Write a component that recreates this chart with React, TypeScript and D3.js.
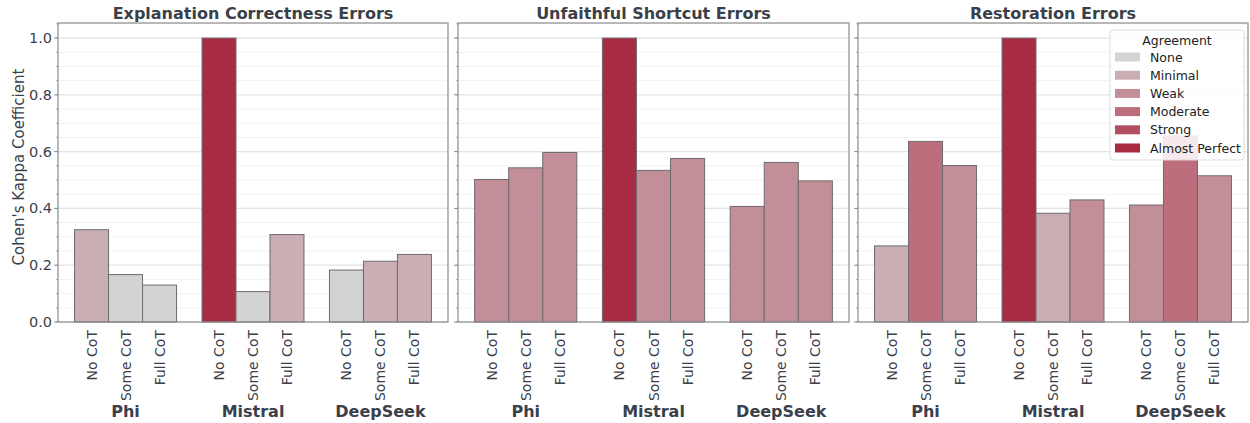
import React, { useEffect, useRef } from 'react';
import * as d3 from 'd3';

const panelTitles = ['Explanation Correctness Errors', 'Unfaithful Shortcut Errors', 'Restoration Errors'];
const models = ['Phi', 'Mistral', 'DeepSeek'];
const settings = ['No CoT', 'Some CoT', 'Full CoT'];

// kappa values per model, order: No CoT, Some CoT, Full CoT
const explanationVals = [
  [0.325, 0.167, 0.13],
  [1.0, 0.107, 0.308],
  [0.183, 0.214, 0.238],
];
const shortcutVals = [
  [0.502, 0.543, 0.597],
  [1.0, 0.534, 0.576],
  [0.407, 0.562, 0.497],
];
const restorationVals = [
  [0.268, 0.636, 0.551],
  [1.0, 0.383, 0.43],
  [0.412, 0.655, 0.515],
];

const agreementLevels = ['None', 'Minimal', 'Weak', 'Moderate', 'Strong', 'Almost Perfect'];
const agreementColors = ['#d3d3d3', '#c9afb3', '#c28f98', '#bc6e7c', '#b34f62', '#a82b44'];
const agreementCuts = [0.2, 0.4, 0.6, 0.8, 0.9];

const yTicks = [0, 0.2, 0.4, 0.6, 0.8, 1.0];

const W = 1250, H = 423;
const textCol = '#3b3f4a';
const font = '"DejaVu Sans", sans-serif';

export default function App() {
  const ref = useRef<SVGSVGElement>(null);

  useEffect(() => {
    const svg = d3.select(ref.current);
    svg.selectAll('*').remove();

    const panelData = [explanationVals, shortcutVals, restorationVals];
    const panelX = [[58, 448], [458, 849], [858, 1248]];
    const top = 23, bottom = 322;

    const y = d3.scaleLinear().domain([0, 1.053]).range([bottom, top]);
    const color = d3.scaleThreshold<number, string>().domain(agreementCuts).range(agreementColors);

    panelData.forEach((vals, p) => {
      const [x0, x1] = panelX[p];
      const x = d3.scaleLinear().domain([-0.53, 2.53]).range([x0, x1]);
      const step = x(1) - x(0);
      const bw = (step * 0.8) / 3;
      const g = svg.append('g');

      // minor grid
      g.selectAll('.minor')
        .data(d3.range(0, 1.051, 0.05).filter(v => Math.abs(v * 5 - Math.round(v * 5)) > 0.01))
        .enter().append('line')
        .attr('x1', x0).attr('x2', x1)
        .attr('y1', d => y(d)).attr('y2', d => y(d))
        .attr('stroke', '#f2f2f2').attr('stroke-width', 1);
      g.selectAll('.major')
        .data(yTicks)
        .enter().append('line')
        .attr('x1', x0).attr('x2', x1)
        .attr('y1', d => y(d)).attr('y2', d => y(d))
        .attr('stroke', '#e3e3e3').attr('stroke-width', 1.2);

      // bars
      vals.forEach((row, gi) => {
        row.forEach((v, si) => {
          const cx = x(gi) + (si - 1) * bw;
          g.append('rect')
            .attr('x', cx - bw / 2)
            .attr('y', y(v))
            .attr('width', bw)
            .attr('height', y(0) - y(v))
            .attr('fill', color(v))
            .attr('stroke', '#6e6a70')
            .attr('stroke-width', 1);
          g.append('text')
            .attr('transform', 'translate(' + (cx + 5) + ',' + 330 + ') rotate(-90)')
            .attr('text-anchor', 'end')
            .attr('font-size', 14)
            .attr('fill', textCol)
            .attr('font-family', font)
            .text(settings[si]);
        });
        g.append('text')
          .attr('x', x(gi))
          .attr('y', 417)
          .attr('text-anchor', 'middle')
          .attr('font-size', 16)
          .attr('font-weight', 'bold')
          .attr('fill', textCol)
          .attr('font-family', font)
          .text(models[gi]);
      });

      // y ticks
      const minor = d3.range(0, 1.051, 0.05);
      g.selectAll('.mt').data(minor).enter().append('line')
        .attr('x1', x0 - 2).attr('x2', x0)
        .attr('y1', d => y(d)).attr('y2', d => y(d))
        .attr('stroke', '#9a9a9a').attr('stroke-width', 0.8);
      g.selectAll('.Mt').data(yTicks).enter().append('line')
        .attr('x1', x0 - 4).attr('x2', x0)
        .attr('y1', d => y(d)).attr('y2', d => y(d))
        .attr('stroke', '#8a8a8a').attr('stroke-width', 1);

      if (p === 0) {
        g.selectAll('.tl').data(yTicks).enter().append('text')
          .attr('x', x0 - 6).attr('y', d => y(d) + 5)
          .attr('text-anchor', 'end')
          .attr('font-size', 14.5)
          .attr('fill', textCol)
          .attr('font-family', font)
          .text(d => d.toFixed(1));
      }

      // frame
      g.append('rect')
        .attr('x', x0).attr('y', top)
        .attr('width', x1 - x0).attr('height', bottom - top)
        .attr('fill', 'none')
        .attr('stroke', '#8c8c8c').attr('stroke-width', 1.2);

      g.append('text')
        .attr('x', (x0 + x1) / 2).attr('y', 19)
        .attr('text-anchor', 'middle')
        .attr('font-size', 16)
        .attr('font-weight', 'bold')
        .attr('fill', textCol)
        .attr('font-family', font)
        .text(panelTitles[p]);
    });

    svg.append('text')
      .attr('transform', 'translate(24,' + 167 + ') rotate(-90)')
      .attr('text-anchor', 'middle')
      .attr('font-size', 15)
      .attr('fill', textCol)
      .attr('font-family', font)
      .text("Cohen's Kappa Coefficient");

    // legend
    const lg = svg.append('g').attr('transform', 'translate(1110,30)');
    lg.append('rect')
      .attr('x', 0).attr('y', 0).attr('width', 134).attr('height', 130)
      .attr('rx', 3)
      .attr('fill', 'white').attr('fill-opacity', 0.85)
      .attr('stroke', '#dcdcdc');
    lg.append('text')
      .attr('x', 67).attr('y', 15)
      .attr('text-anchor', 'middle')
      .attr('font-size', 12.5)
      .attr('fill', '#222')
      .attr('font-family', font)
      .text('Agreement');
    agreementLevels.forEach((lvl, i) => {
      const ly = 27 + i * 18.2;
      lg.append('rect')
        .attr('x', 5).attr('y', ly - 4.5).attr('width', 25).attr('height', 9)
        .attr('fill', agreementColors[i]);
      lg.append('text')
        .attr('x', 40).attr('y', ly + 4.5)
        .attr('font-size', 12.5)
        .attr('fill', '#222')
        .attr('font-family', font)
        .text(lvl);
    });
  }, []);

  return <svg ref={ref} width={W} height={H} style={{ position: 'absolute', left: 0, top: 0 }} />;
}
